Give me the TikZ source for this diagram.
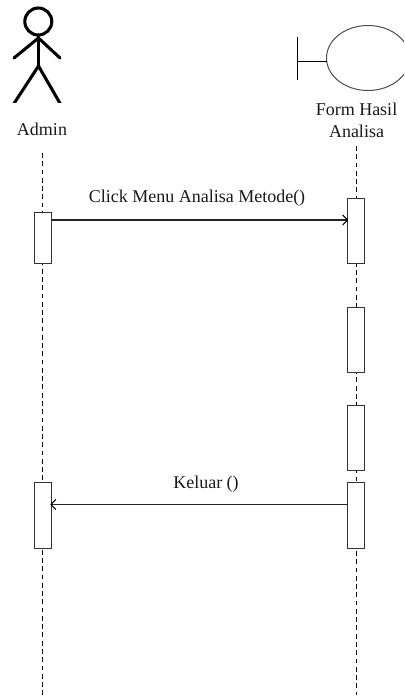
\documentclass[tikz,border=0pt]{standalone}
\usepackage{fontspec}
\setmainfont{Liberation Serif}
\begin{document}
\begin{tikzpicture}[x=0.75pt,y=-0.75pt,
  lifeline/.style={draw=black,line width=0.8pt,dash pattern=on 3.6pt off 2.6pt},
  activation/.style={draw=black!80,line width=0.75pt,fill=white,minimum width=12.75pt,inner sep=0pt,outer sep=0pt},
  msg/.style={draw=black!85,line width=0.85pt},
  tip/.style={draw=black,line width=0.8pt},
  actorline/.style={draw=black,line width=2.3pt},
  label/.style={font=\fontsize{13.5pt}{16pt}\selectfont,inner sep=0pt,text=black!90,align=center}]
\useasboundingbox (0,0) rectangle (404,697);
% lifelines
\coordinate (lA) at (42.5,153);
\coordinate (lAe) at (42.5,695);
\coordinate (lB) at (356.5,146);
\coordinate (lBe) at (356.5,695);
\draw[lifeline] (lA) -- (lAe);
\draw[lifeline] (lB) -- (lBe);
% actor
\draw[actorline] (38.3,21.5) circle (13.5);
\draw[actorline] (38.5,36) -- (38.5,66);
\draw[actorline,line cap=round] (14,58) -- (38.5,38) -- (60,58);
\begin{scope}
\clip (0,60) rectangle (80,102.5);
\draw[actorline] (13,105) -- (38.5,66) -- (61,105);
\end{scope}
% boundary
\begin{scope}
\clip (290,0) rectangle (404,120);
\draw[black!70,line width=0.75pt] (368,58) ellipse (41.5 and 32.5);
\end{scope}
\coordinate (bt) at (297.5,37);
\coordinate (bb) at (297.5,80);
\coordinate (bm) at (297.5,61);
\coordinate (be) at (326.5,61);
\draw[black,line width=0.75pt] (bt) -- (bb);
\draw[black,line width=0.75pt] (bm) -- (be);
% labels
\node[label] (admin) at (42,129.5) {Admin};
\node[label] (form) at (356.5,109) {Form Hasil};
\node[label] (anal) at (356.5,131.5) {Analisa};
\node[label] (m1) at (197,198) {Click Menu Analisa Metode()};
\node[label] (m2) at (206,484) {Keluar ()};
% activations
\node[activation,minimum height=38.25pt] (a1) at (42.5,237.5) {};
\node[activation,minimum height=48.75pt] (b1) at (356,230.5) {};
\node[activation,minimum height=48.75pt] (b2) at (356,339.5) {};
\node[activation,minimum height=48.75pt] (b3) at (356,437.5) {};
\node[activation,minimum height=49.5pt] (b4) at (356,515) {};
\node[activation,minimum height=49.5pt] (a2) at (42.5,515) {};
% messages
\draw[msg] (a1.east |- 0,220) coordinate (m1s) -- (b1.west |- 0,220) coordinate (m1e);
\draw[tip] ([xshift=-3.6pt,yshift=-3.8pt]m1e) -- (m1e) -- ([xshift=-3.6pt,yshift=3.8pt]m1e);
\draw[msg] (b4.west |- 0,504.5) coordinate (m2s) -- (a2.east |- 0,504.5) coordinate (m2e);
\draw[tip] ([xshift=3.6pt,yshift=-3.8pt]m2e) -- (m2e) -- ([xshift=3.6pt,yshift=3.8pt]m2e);
\end{tikzpicture}
\end{document}
